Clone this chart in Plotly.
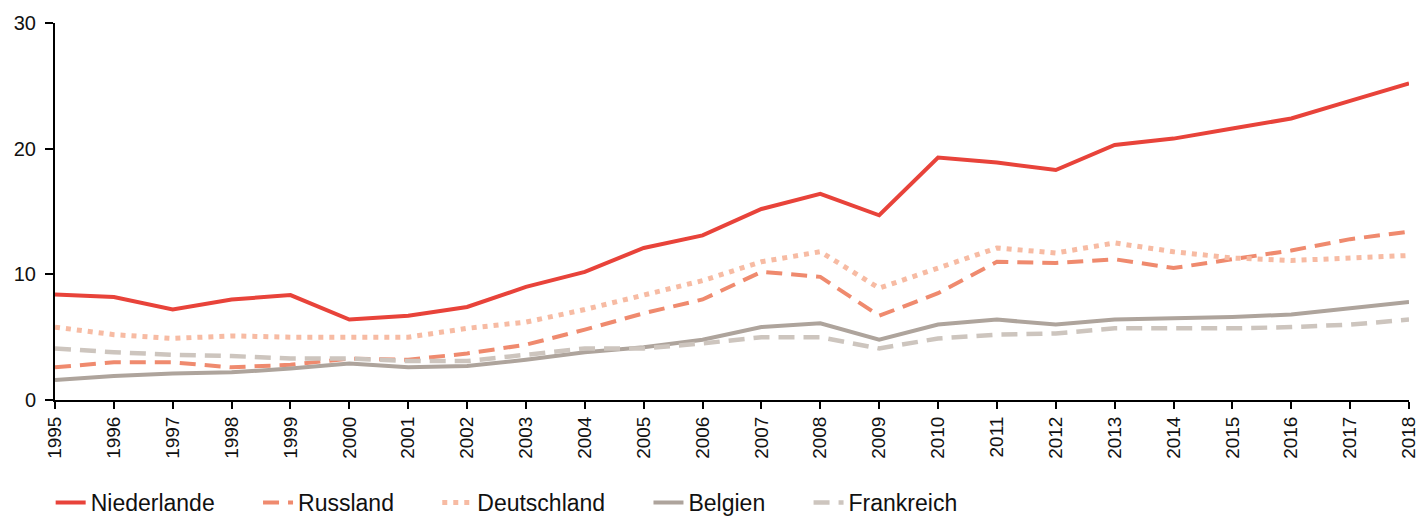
import plotly.graph_objects as go

years = list(range(1995, 2019))

niederlande = [8.4, 8.2, 7.2, 8.0, 8.35, 6.4, 6.7, 7.4, 9.0, 10.2, 12.1, 13.1, 15.2, 16.4, 14.7, 19.3, 18.9, 18.3, 20.3, 20.8, 21.6, 22.4, 23.8, 25.2]
russland = [2.6, 3.0, 3.0, 2.6, 2.8, 3.3, 3.2, 3.7, 4.4, 5.6, 6.9, 8.0, 10.2, 9.8, 6.7, 8.5, 11.0, 10.9, 11.2, 10.5, 11.2, 11.9, 12.8, 13.4]
deutschland = [5.8, 5.2, 4.9, 5.1, 5.0, 5.0, 5.0, 5.7, 6.2, 7.2, 8.3, 9.5, 11.0, 11.8, 8.9, 10.5, 12.1, 11.7, 12.5, 11.8, 11.3, 11.1, 11.3, 11.5]
belgien = [1.6, 1.9, 2.1, 2.2, 2.5, 2.9, 2.6, 2.7, 3.2, 3.8, 4.2, 4.8, 5.8, 6.1, 4.8, 6.0, 6.4, 6.0, 6.4, 6.5, 6.6, 6.8, 7.3, 7.8]
frankreich = [4.1, 3.8, 3.6, 3.5, 3.3, 3.3, 3.1, 3.1, 3.6, 4.1, 4.1, 4.5, 5.0, 5.0, 4.1, 4.9, 5.2, 5.3, 5.7, 5.7, 5.7, 5.8, 6.0, 6.4]

series = [
    ("Niederlande", niederlande, "#e8433a", "solid", 4),
    ("Russland", russland, "#ef8a6e", "16px,9px", 4),
    ("Deutschland", deutschland, "#f7bba3", "5px,6px", 5),
    ("Belgien", belgien, "#aea49c", "solid", 4),
    ("Frankreich", frankreich, "#cdc5be", "16px,9px", 4.5),
]

pad = "\u00a0" * 6

fig = go.Figure()
for name, vals, color, dash, w in series:
    fig.add_trace(go.Scatter(
        x=years, y=vals, name=name + pad, mode="lines",
        line=dict(color=color, width=w, dash=dash),
    ))

fig.update_layout(
    width=1421, height=520,
    margin=dict(l=55, r=12, t=23, b=120, autoexpand=False),
    paper_bgcolor="white", plot_bgcolor="white",
    font=dict(family="Liberation Sans, Arial, sans-serif", size=20, color="#111"),
    showlegend=True,
    legend=dict(orientation="h", x=-0.0032, xanchor="left",
                y=-0.2148, yanchor="top",
                font=dict(size=23), itemwidth=30, tracegroupgap=0,
                traceorder="normal"),
    xaxis=dict(
        range=[1995, 2018], tickmode="array", tickvals=years,
        ticktext=[str(y) for y in years], tickangle=-90, automargin=False,
        showgrid=False, zeroline=False, showline=True, linecolor="#000", linewidth=2,
        ticks="outside", ticklen=7, tickwidth=2, tickcolor="#000",
        tickfont=dict(size=19),
    ),
    yaxis=dict(
        range=[0, 30], tickvals=[0, 10, 20, 30], automargin=False,
        showgrid=False, zeroline=False, showline=True, linecolor="#000", linewidth=2,
        ticks="outside", ticklen=8, tickwidth=2, tickcolor="#000",
        tickfont=dict(size=20), ticklabelstandoff=5,
    ),
)

fig.write_html("out.html", config={"displayModeBar": False},
               post_script="document.body.style.margin='0';document.body.style.overflow='hidden';")
